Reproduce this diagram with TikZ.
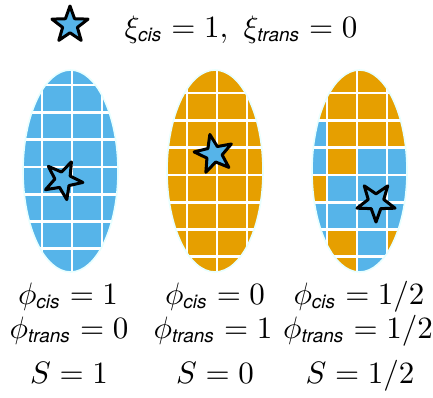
\documentclass[tikz,border=0pt]{standalone}
\usepackage{fontspec}
\setsansfont{TeX Gyre Heros}
\usetikzlibrary{shapes.geometric}
\definecolor{cblue}{RGB}{86,180,233}
\definecolor{corange}{RGB}{230,159,0}
\definecolor{rimc}{RGB}{232,255,255}
\newcommand{\sub}[1]{\mbox{\fontsize{6.1}{7}\selectfont\sffamily\itshape #1}}
\newcommand{\biglab}[1]{\scalebox{3.1}{$#1$}}
\begin{document}
\begin{tikzpicture}[x=1pt,y=-1pt,
  starshape/.style={star, star points=5, star point ratio=2.45, minimum size=40pt,
    inner sep=0pt, outer sep=0pt, draw=black, line width=3pt, line join=round, fill=cblue},
  gridline/.style={white, line width=2.8pt},
  rim/.style={draw=rimc, line width=1.6pt},
  lab/.style={anchor=base, inner sep=0pt, font=\fontsize{10}{12}\selectfont}]
\useasboundingbox (0,0) rectangle (433,397);
% ---------- ellipse 1 (all cis) ----------
\coordinate (e1) at (70.5,171);
\begin{scope}
  \clip (e1) ellipse [x radius=47.5pt, y radius=101pt];
  \fill[cblue] (0,60) rectangle (150,290);
  \foreach \x in {42,72,102} \draw[gridline] (\x,60) -- (\x,290);
  \foreach \k in {0,...,6} \draw[gridline] (0,85+27.3*\k) -- (150,85+27.3*\k);
\end{scope}
\draw[rim] (e1) ellipse [x radius=47.5pt, y radius=101pt];
% ---------- ellipse 2 (all trans) ----------
\coordinate (e2) at (215,171);
\begin{scope}
  \clip (e2) ellipse [x radius=48pt, y radius=101pt];
  \fill[corange] (150,60) rectangle (290,290);
  \foreach \x in {187,217,247} \draw[gridline] (\x,60) -- (\x,290);
  \foreach \k in {0,...,6} \draw[gridline] (150,93+27.3*\k) -- (290,93+27.3*\k);
\end{scope}
\draw[rim] (e2) ellipse [x radius=48pt, y radius=101pt];
% ---------- ellipse 3 (mixed) ----------
\coordinate (e3) at (359.5,171);
\begin{scope}
  \clip (e3) ellipse [x radius=47.5pt, y radius=101pt];
  \fill[cblue] (295,60) rectangle (425,290);
  \fill[corange] (295,60) rectangle (425,120.3);
  \fill[corange] (327,120.3) rectangle (425,147.6);
  \fill[corange] (327,147.6) rectangle (357,174.9);
  \fill[corange] (295,174.9) rectangle (327,202.2);
  \fill[corange] (327,229.5) rectangle (357,256.8);
  \fill[corange] (387,229.5) rectangle (425,256.8);
  \fill[corange] (327,256.8) rectangle (357,290);
  \foreach \x in {327,357,387} \draw[gridline] (\x,60) -- (\x,290);
  \foreach \k in {0,...,6} \draw[gridline] (295,93+27.3*\k) -- (425,93+27.3*\k);
\end{scope}
\draw[rim] (e3) ellipse [x radius=47.5pt, y radius=101pt];
% ---------- stars ----------
\node[starshape, minimum size=38pt] (s0) at (70,25) {};
\node[starshape, rotate=-25] (s1) at (63,180) {};
\node[starshape, rotate=12] (s2) at (214,154) {};
\node[starshape, rotate=180] (s3) at (376,202) {};
% ---------- labels ----------
\node[lab] (top) at (241,37) {\biglab{\xi_{\sub{cis}}=1,\ \xi_{\sub{trans}}=0}};
\node[lab] (a1) at (68,304) {\biglab{\phi_{\sub{cis}}=1}};
\node[lab] (b1) at (69,338) {\biglab{\phi_{\sub{trans}}=0}};
\node[lab] (c1) at (69,383) {\biglab{S=1}};
\node[lab] (a2) at (215,304) {\biglab{\phi_{\sub{cis}}=0}};
\node[lab] (b2) at (213,338) {\biglab{\phi_{\sub{trans}}=1}};
\node[lab] (c2) at (215,383) {\biglab{S=0}};
\node[lab] (a3) at (359,304) {\biglab{\phi_{\sub{cis}}=1/2}};
\node[lab] (b3) at (358,338) {\biglab{\phi_{\sub{trans}}=1/2}};
\node[lab] (c3) at (360,383) {\biglab{S=1/2}};
\end{tikzpicture}
\end{document}
